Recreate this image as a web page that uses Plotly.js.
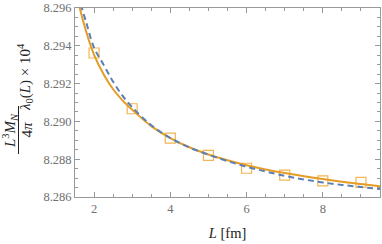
<!DOCTYPE html>
<html><head><meta charset="utf-8">
<script src="https://cdn.plot.ly/plotly-3.0.1.min.js"></script>
<style>html,body{margin:0;padding:0;background:#fff}#chart{width:382px;height:244px}</style>
</head><body><div id="chart"></div>
<script>
// Data
const markerL = [2, 3, 4, 5, 6, 7, 8, 9];
const markerY = [8.29362, 8.29067, 8.28912, 8.28820, 8.28752, 8.28716, 8.28685, 8.28677];

const orangeL = [1.6, 1.8, 2, 2.25, 2.5, 2.75, 3, 3.5, 4, 4.5, 5, 5.5, 6, 6.5, 7, 7.5, 8, 8.5, 9, 9.5];
const orangeY = [8.2962, 8.2947, 8.29352, 8.2925, 8.2917, 8.2911, 8.29062, 8.28975, 8.28912, 8.28863, 8.28825, 8.28794, 8.28768, 8.28746, 8.28727, 8.28710, 8.28695, 8.28681, 8.28669, 8.28657];

const blueL = [1.65, 1.8, 2, 2.25, 2.5, 2.75, 3, 3.5, 4, 4.5, 5, 5.5, 6, 6.5, 7, 7.5, 8, 8.5, 9, 9.5];
const blueY = [8.2962, 8.2952, 8.2939, 8.2930, 8.2921, 8.29135, 8.29075, 8.28980, 8.28912, 8.28862, 8.28824, 8.28790, 8.28760, 8.28735, 8.28712, 8.28693, 8.28677, 8.28664, 8.28653, 8.28642];

const xTicks = [2, 4, 6, 8];
const yTicks = [8.286, 8.288, 8.290, 8.292, 8.294, 8.296];

const ML = 75, MR = 2, MT = 8, MB = 47;
const W = 382, H = 244;
const PW = W - ML - MR, PH = H - MT - MB;
const px2x = p => (p - ML) / PW;
const px2y = p => (H - MB - p) / PH;

const serif = "Liberation Serif, DejaVu Serif, serif";
const gray = "#707070";

const traces = [
  {x: markerL, y: markerY, mode: 'markers', type: 'scatter',
   marker: {symbol: 'square-open', size: 10, color: '#F2B553', line: {width: 1.2, color: '#F2B553'}}},
  {x: orangeL, y: orangeY, mode: 'lines', type: 'scatter',
   line: {color: '#E59C25', width: 2, shape: 'spline'}},
  {x: blueL, y: blueY, mode: 'lines', type: 'scatter',
   line: {color: '#5B80B8', width: 2, dash: '6px,4px', shape: 'spline'}}
];

const axisCommon = {
  showgrid: false, zeroline: false, showline: true, linecolor: '#999', linewidth: 1,
  mirror: 'allticks', ticks: 'inside', ticklen: 5, tickcolor: '#999', tickwidth: 1,
  tickfont: {family: serif, size: 12.5, color: gray}
};

const layout = {
  width: W, height: H,
  margin: {l: ML, r: MR, t: MT, b: MB},
  paper_bgcolor: '#fff', plot_bgcolor: '#fff',
  showlegend: false,
  xaxis: Object.assign({}, axisCommon, {
    range: [1.5, 9.5], tickvals: xTicks, ticktext: xTicks.map(String),
    minor: {dtick: 0.5, tick0: 0, ticks: 'inside', ticklen: 3, tickcolor: '#999'},
    title: {text: '<i>L</i> [fm]', font: {family: serif, size: 14.5, color: '#222'}, standoff: 12}
  }),
  yaxis: Object.assign({}, axisCommon, {
    range: [8.286, 8.296], tickvals: yTicks, ticktext: yTicks.map(v => v.toFixed(3)),
    minor: {dtick: 0.0005, tick0: 8.286, ticks: 'inside', ticklen: 3, tickcolor: '#999'}
  }),
  shapes: [
    {type: 'line', xref: 'paper', yref: 'paper',
     x0: px2x(18.5), x1: px2x(18.5), y0: px2y(106), y1: px2y(154),
     line: {color: '#222', width: 1}}
  ],
  annotations: [
    {xref: 'paper', yref: 'paper', x: px2x(10), y: px2y(131), textangle: -90,
     xanchor: 'center', yanchor: 'middle', showarrow: false,
     text: '<i>L</i><sup>3</sup><i>M</i><sub><i>N</i></sub>',
     font: {family: serif, size: 15, color: '#222'}},
    {xref: 'paper', yref: 'paper', x: px2x(26.5), y: px2y(130), textangle: -90,
     xanchor: 'center', yanchor: 'middle', showarrow: false,
     text: '4<i>π</i>',
     font: {family: serif, size: 15, color: '#222'}},
    {xref: 'paper', yref: 'paper', x: px2x(25), y: px2y(77), textangle: -90,
     xanchor: 'center', yanchor: 'middle', showarrow: false,
     text: '<i>λ</i><sub>0</sub>(<i>L</i>) × 10<sup>4</sup>',
     font: {family: serif, size: 15, color: '#222'}}
  ]
};

Plotly.newPlot('chart', traces, layout, {displayModeBar: false, staticPlot: true});
</script>
</body></html>
